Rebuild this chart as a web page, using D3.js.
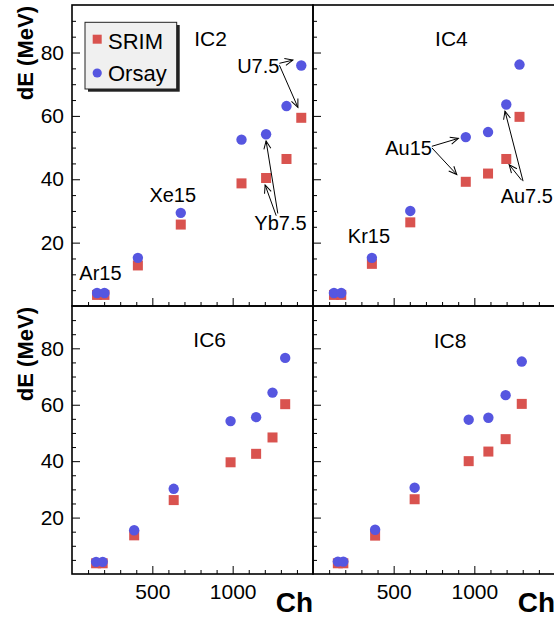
<!DOCTYPE html>
<html>
<head>
<meta charset="utf-8">
<script src="https://cdn.jsdelivr.net/npm/d3@7/dist/d3.min.js"></script>
<style>
  html, body { margin: 0; padding: 0; background: #fff; }
  svg { display: block; font-family: "Liberation Sans", Arial, Helvetica, sans-serif; }
</style>
</head>
<body>
<div id="chart"></div>
<script>
// ---------------- data ----------------
const panelNames = ["IC2", "IC4", "IC6", "IC8"];

const chIC2    = [156, 202, 410, 677, 1055, 1208, 1335, 1427];
const srimIC2  = [3.5, 3.5, 12.8, 25.7, 38.7, 40.4, 46.4, 59.4];
const orsayIC2 = [4.1, 4.1, 15.2, 29.4, 52.5, 54.2, 63.1, 75.9];

const chIC4    = [130, 175, 365, 603, 947, 1085, 1198, 1280];
const srimIC4  = [3.5, 3.5, 13.3, 26.4, 39.2, 41.8, 46.4, 59.7];
const orsayIC4 = [4.1, 4.1, 15.2, 30.0, 53.3, 54.9, 63.6, 76.2];

const chIC6    = [150, 191, 387, 633, 987, 1146, 1248, 1327];
const srimIC6  = [3.8, 3.8, 13.7, 26.2, 39.6, 42.6, 48.4, 60.2];
const orsayIC6 = [4.3, 4.3, 15.5, 30.2, 54.2, 55.6, 64.3, 76.6];

const chIC8    = [154, 188, 385, 630, 965, 1087, 1194, 1294];
const srimIC8  = [3.8, 3.8, 13.6, 26.5, 40.0, 43.4, 47.8, 60.3];
const orsayIC8 = [4.4, 4.4, 15.7, 30.6, 54.7, 55.4, 63.4, 75.3];

const seriesNames = ["SRIM", "Orsay"];
const xTickLabels = [500, 1000];
const yTickLabels = [20, 40, 60, 80];
const xDomain = [0, 1500];
const yDomain = [0, 95];
const xTitle = "Ch";
const yTitle = "dE (MeV)";

// text labels (data coordinates) per panel
const ionLabels = [
  { panel: 0, text: "Ar15",  x: 177,  y: 8.3,  anchor: "middle" },
  { panel: 0, text: "Xe15",  x: 627,  y: 32.7, anchor: "middle" },
  { panel: 0, text: "U7.5",  x: 1291, y: 73.4, anchor: "end" },
  { panel: 0, text: "Yb7.5", x: 1135, y: 24.1, anchor: "start" },
  { panel: 1, text: "Kr15",  x: 347,  y: 19.9, anchor: "middle" },
  { panel: 1, text: "Au15",  x: 737,  y: 47.6, anchor: "end" },
  { panel: 1, text: "Au7.5", x: 1163, y: 32.5, anchor: "start" }
];
// arrows (data coordinates): from label to points
const arrows = [
  { panel: 0, x1: 1291, y1: 76.6, x2: 1375, y2: 77.6 },
  { panel: 0, x1: 1291, y1: 76.0, x2: 1406, y2: 62.7 },
  { panel: 0, x1: 1281, y1: 29.2, x2: 1208, y2: 52.1 },
  { panel: 0, x1: 1271, y1: 28.5, x2: 1202, y2: 38.2 },
  { panel: 1, x1: 737,  y1: 50.4, x2: 901,  y2: 52.9 },
  { panel: 1, x1: 737,  y1: 49.9, x2: 891,  y2: 41.5 },
  { panel: 1, x1: 1302, y1: 39.4, x2: 1190, y2: 61.5 },
  { panel: 1, x1: 1293, y1: 39.7, x2: 1216, y2: 44.6 }
];
const panelTitlePos = [
  { x: 862, y: 82.2 }, { x: 858, y: 82.0 }, { x: 857, y: 80.5 }, { x: 849, y: 80.1 }
];

// ---------------- layout ----------------
const W = 554, H = 619;
const colX = [[72, 313], [313, 555]];
const rowY = [[306, 5], [574, 306]];
const SRIM_COLOR = "#d9534f";
const ORSAY_COLOR = "#5656e0";

const panelData = [
  { ch: chIC2, srim: srimIC2, orsay: orsayIC2 },
  { ch: chIC4, srim: srimIC4, orsay: orsayIC4 },
  { ch: chIC6, srim: srimIC6, orsay: orsayIC6 },
  { ch: chIC8, srim: srimIC8, orsay: orsayIC8 }
];

const svg = d3.select("#chart").append("svg")
  .attr("width", W).attr("height", H).attr("viewBox", `0 0 ${W} ${H}`);

svg.append("defs").append("marker")
  .attr("id", "arrowhead")
  .attr("viewBox", "-10 -6 12 12")
  .attr("refX", 0).attr("refY", 0)
  .attr("markerWidth", 12).attr("markerHeight", 12)
  .attr("markerUnits", "userSpaceOnUse")
  .attr("orient", "auto")
  .append("path")
  .attr("d", "M-8,-3.5 L0,0 L-8,3.5")
  .attr("fill", "none").attr("stroke", "#000").attr("stroke-width", 1);

panelNames.forEach((name, i) => {
  const col = i % 2, row = Math.floor(i / 2);
  const x = d3.scaleLinear().domain(xDomain).range(colX[col]);
  const y = d3.scaleLinear().domain(yDomain).range(rowY[row]);
  const g = svg.append("g");
  const [x0, x1] = colX[col];
  const [yb, yt] = rowY[row];

  // y axis: minor + major ticks (inside)
  const yMinor = d3.range(5, 95, 5).filter(v => v % 20 !== 0);
  g.append("g").attr("transform", `translate(${x0},0)`)
    .call(d3.axisLeft(y).tickValues(yMinor).tickSize(-4).tickFormat(""))
    .call(a => a.select(".domain").remove());
  const yMaj = g.append("g").attr("transform", `translate(${x0},0)`)
    .call(d3.axisLeft(y).tickValues(yTickLabels).tickSize(-8).tickPadding(8)
      .tickFormat(col === 0 ? d3.format("d") : ""))
    .call(a => a.select(".domain").remove());
  yMaj.selectAll("text").attr("font-size", 21).attr("fill", "#000")
    .attr("font-family", "Liberation Sans, Arial, sans-serif");

  // x axis: minor + major ticks (inside, pointing up)
  const xMinor = d3.range(100, 1500, 100).filter(v => v % 500 !== 0);
  g.append("g").attr("transform", `translate(0,${yb})`)
    .call(d3.axisBottom(x).tickValues(xMinor).tickSize(-4).tickFormat(""))
    .call(a => a.select(".domain").remove());
  const xMaj = g.append("g").attr("transform", `translate(0,${yb})`)
    .call(d3.axisBottom(x).tickValues(xTickLabels).tickSize(-8).tickPadding(10)
      .tickFormat(row === 1 ? d3.format("d") : ""))
    .call(a => a.select(".domain").remove());
  xMaj.selectAll("text").attr("font-size", 21).attr("fill", "#000")
    .attr("font-family", "Liberation Sans, Arial, sans-serif");
  g.selectAll(".tick line").attr("stroke", "#000").attr("stroke-width", 1);

  // frame
  g.append("rect")
    .attr("x", x0).attr("y", yt).attr("width", x1 - x0).attr("height", yb - yt)
    .attr("fill", "none").attr("stroke", "#000").attr("stroke-width", 1.6);

  const d = panelData[i];
  // SRIM squares
  g.append("g").selectAll("rect").data(d.ch.map((c, k) => [c, d.srim[k]]))
    .join("rect")
    .attr("x", p => x(p[0]) - 5).attr("y", p => y(p[1]) - 5)
    .attr("width", 10).attr("height", 10)
    .attr("fill", SRIM_COLOR);
  // Orsay circles
  g.append("g").selectAll("circle").data(d.ch.map((c, k) => [c, d.orsay[k]]))
    .join("circle")
    .attr("cx", p => x(p[0])).attr("cy", p => y(p[1])).attr("r", 5.2)
    .attr("fill", ORSAY_COLOR);

  // panel title
  g.append("text").attr("x", x(panelTitlePos[i].x)).attr("y", y(panelTitlePos[i].y))
    .attr("text-anchor", "middle").attr("font-size", 21).text(name);

  // ion labels
  ionLabels.filter(l => l.panel === i).forEach(l => {
    g.append("text").attr("x", x(l.x)).attr("y", y(l.y))
      .attr("text-anchor", l.anchor).attr("font-size", 20).text(l.text);
  });
  arrows.filter(a => a.panel === i).forEach(a => {
    g.append("line")
      .attr("x1", x(a.x1)).attr("y1", y(a.y1)).attr("x2", x(a.x2)).attr("y2", y(a.y2))
      .attr("stroke", "#000").attr("stroke-width", 1)
      .attr("marker-end", "url(#arrowhead)");
  });

  // axis titles
  if (col === 0) {
    g.append("text")
      .attr("transform", `translate(32.5,${yt + 1}) rotate(-90)`)
      .attr("text-anchor", "end").attr("font-size", 22).attr("font-weight", "bold")
      .text(yTitle);
  }
  if (row === 1) {
    g.append("text").attr("x", x1).attr("y", 612)
      .attr("text-anchor", "end").attr("font-size", 28).attr("font-weight", "bold")
      .text(xTitle);
  }
});

// legend (in IC2 panel)
const lg = svg.append("g");
lg.append("rect").attr("x", 88).attr("y", 25).attr("width", 91.7).attr("height", 66.7)
  .attr("fill", "#222");
lg.append("rect").attr("x", 85).attr("y", 22.3).attr("width", 91.7).attr("height", 66.7)
  .attr("fill", "#f0f0f0").attr("stroke", "#222").attr("stroke-width", 1);
lg.append("rect").attr("x", 92.7).attr("y", 34.7).attr("width", 9).attr("height", 9)
  .attr("fill", SRIM_COLOR);
lg.append("circle").attr("cx", 97.2).attr("cy", 73).attr("r", 4.6).attr("fill", ORSAY_COLOR);
lg.append("text").attr("x", 108).attr("y", 49).attr("font-size", 22).text(seriesNames[0]);
lg.append("text").attr("x", 108).attr("y", 81).attr("font-size", 22).text(seriesNames[1]);
</script>
</body>
</html>
